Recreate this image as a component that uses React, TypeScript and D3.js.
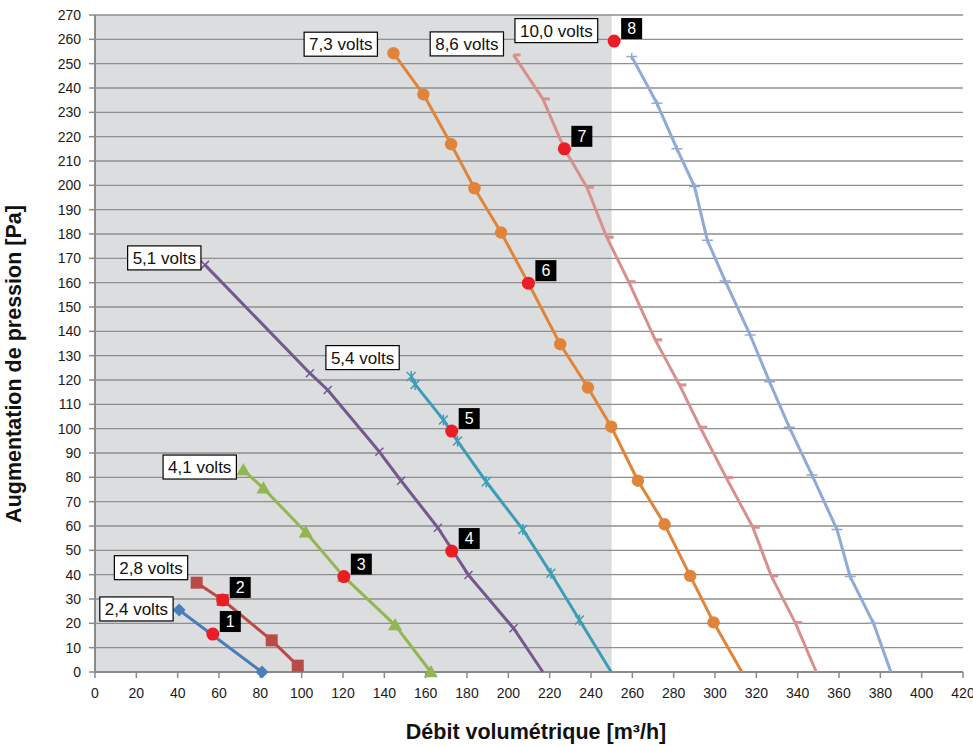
import React from "react";
import * as d3 from "d3";

const W = 973;
const H = 747;

// axis ticks
const xTickValues = d3.range(0, 421, 20);
const yTickValues = d3.range(0, 271, 10);
const shadedMaxFlow = 250;

// series names
const seriesNames = ["2,4 volts", "2,8 volts", "4,1 volts", "5,1 volts", "5,4 volts", "7,3 volts", "8,6 volts", "10,0 volts"];

// series values: [flow m³/h, pressure Pa]
const pts24 = [[40.7, 25.5], [80.8, 0]];
const pts28 = [[49.2, 36.7], [61.8, 29.6], [85.5, 13.0], [98.1, 2.6]];
const pts41 = [[71.8, 83.0], [81.5, 75.5], [102, 57.4], [120.4, 39.2], [145.2, 19.3], [162.5, 0]];
const pts51 = [[53.2, 167.3], [104, 122.8], [112.6, 115.9], [137.6, 90.5], [148.1, 78.6], [165.9, 59.3], [180.7, 39.9], [202.5, 18.0], [216.7, 0]];
const pts54 = [[153, 121.4], [154.9, 118.2], [168.6, 103.6], [175.4, 94.9], [189.3, 78.2], [207, 58.6], [220.6, 40.6], [234.4, 21.4], [249.8, 0]];
const pts73 = [[144.4, 254.3], [158.9, 237.4], [172.3, 216.9], [183.6, 198.8], [196.5, 180.6], [209.7, 159.8], [225.1, 134.7], [238.5, 116.9], [249.8, 100.8], [262.7, 78.6], [275.6, 60.7], [288.0, 39.5], [299.3, 20.4], [313.0, 0]];
const pts86 = [[202.5, 253.6], [216.7, 235.5], [227.1, 215], [238, 199.2], [247.6, 178.7], [258.2, 160.4], [271.1, 136.5], [282.8, 118.0], [292.8, 100.6], [305.4, 79.9], [318.3, 59.5], [327.2, 39.5], [338.8, 20.3], [349, 0]];
const pts100 = [[259.7, 252.9], [271.9, 233.7], [281.6, 215], [290.1, 199.5], [296.3, 177.4], [304.9, 160.7], [317, 138.5], [326.4, 119.3], [335.9, 100.6], [346.9, 81], [359, 58.6], [365.4, 39.2], [376.7, 20.0], [385.1, 0]];

// operating points
const opFlow = [57, 61.8, 120.4, 172.6, 172.6, 209.7, 227.1, 251.2];
const opPressure = [15.6, 29.6, 39.2, 49.7, 99.0, 159.8, 215, 259.3];
const opLabels = ["1", "2", "3", "4", "5", "6", "7", "8"];

// styles
const seriesStyle = [
  { color: "#4a7ebb", marker: "diamond", markEnd: true },
  { color: "#b84a47", marker: "square", markEnd: true },
  { color: "#93b552", marker: "triangle", markEnd: true },
  { color: "#74598f", marker: "x", markEnd: false },
  { color: "#3d9db7", marker: "star", markEnd: false },
  { color: "#e0843a", marker: "circle", markEnd: false },
  { color: "#d7908e", marker: "dash", markEnd: false },
  { color: "#8eaad6", marker: "plus", markEnd: false },
];
// label box right edge / top offset relative to first point (px)
const labelLayout = [
  { dx: -6, dy: -13 },
  { dx: -9, dy: -27 },
  { dx: -7, dy: -15 },
  { dx: -4, dy: -19 },
  { dx: -12, dy: -31 },
  { dx: -16, dy: -21 },
  { dx: -10, dy: -23 },
  { dx: -34, dy: -38 },
];

const allPts = [pts24, pts28, pts41, pts51, pts54, pts73, pts86, pts100];

const FONT = "'Liberation Sans', Arial, Helvetica, sans-serif";

function measure(text: string, font: string): number {
  try {
    const c = document.createElement("canvas").getContext("2d");
    if (c) {
      c.font = font;
      return c.measureText(text).width;
    }
  } catch (e) {}
  return text.length * 8;
}

function Marker({ type, x, y, color }: { type: string; x: number; y: number; color: string }) {
  switch (type) {
    case "diamond": {
      const r = 6.5;
      return <path d={`M${x},${y - r}L${x + r},${y}L${x},${y + r}L${x - r},${y}Z`} fill={color} />;
    }
    case "square": {
      const r = 6;
      return <rect x={x - r} y={y - r} width={2 * r} height={2 * r} fill={color} />;
    }
    case "triangle": {
      const r = 7;
      return <path d={`M${x},${y - r}L${x + r},${y + r * 0.75}L${x - r},${y + r * 0.75}Z`} fill={color} />;
    }
    case "x": {
      const r = 4;
      return (
        <path d={`M${x - r},${y - r}L${x + r},${y + r}M${x - r},${y + r}L${x + r},${y - r}`} stroke={color} strokeWidth={1.5} fill="none" />
      );
    }
    case "star": {
      const r = 4.5;
      return (
        <path
          d={`M${x - r},${y - r}L${x + r},${y + r}M${x - r},${y + r}L${x + r},${y - r}M${x},${y - r - 1}L${x},${y + r + 1}`}
          stroke={color}
          strokeWidth={1.5}
          fill="none"
        />
      );
    }
    case "circle":
      return <circle cx={x} cy={y} r={6.2} fill={color} />;
    case "dash":
      return <rect x={x} y={y - 1.5} width={7} height={3} fill={color} />;
    case "plus": {
      const r = 5.5;
      return <path d={`M${x - r},${y}L${x + r},${y}M${x},${y - 3.5}L${x},${y + 3.5}`} stroke={color} strokeWidth={1.5} fill="none" />;
    }
    default:
      return null;
  }
}

export default function App() {
  const x = d3.scaleLinear().domain([0, 420]).range([95, 963]);
  const y = d3.scaleLinear().domain([0, 270]).range([672, 15]);
  const line = d3
    .line<number[]>()
    .x((d) => x(d[0]))
    .y((d) => y(d[1]));

  const labelFont = `17px ${FONT}`;

  return (
    <svg width={W} height={H} style={{ position: "absolute", left: 0, top: 0, background: "#fff" }} fontFamily={FONT}>
      {/* shaded region */}
      <rect x={x(0)} y={y(270)} width={x(shadedMaxFlow) - x(0)} height={y(0) - y(270)} fill="#dcdddf" />
      {/* gridlines */}
      {yTickValues.map((v) => (
        <line key={"g" + v} x1={x(0)} x2={x(420)} y1={y(v)} y2={y(v)} stroke="#8f8f8f" strokeWidth={1.4} />
      ))}
      {/* y axis */}
      <line x1={x(0)} x2={x(0)} y1={y(0)} y2={y(270)} stroke="#8a8a8a" strokeWidth={2} />
      {yTickValues.map((v) => (
        <g key={"yt" + v}>
          <line x1={x(0) - 6} x2={x(0)} y1={y(v)} y2={y(v)} stroke="#8a8a8a" strokeWidth={1.5} />
          <text x={81} y={y(v)} dy="0.35em" textAnchor="end" fontSize={14} fill="#1a1a1a">
            {v}
          </text>
        </g>
      ))}
      {/* x axis */}
      <line x1={x(0)} x2={x(420)} y1={y(0)} y2={y(0)} stroke="#8a8a8a" strokeWidth={2} />
      {xTickValues.map((v) => (
        <g key={"xt" + v}>
          <line x1={x(v)} x2={x(v)} y1={y(0)} y2={y(0) + 6} stroke="#8a8a8a" strokeWidth={1.5} />
          <text x={x(v)} y={698} textAnchor="middle" fontSize={14} fill="#1a1a1a">
            {v}
          </text>
        </g>
      ))}
      {/* axis titles */}
      <text x={536} y={739} textAnchor="middle" fontSize={21.5} fontWeight="bold" fill="#111">
        Débit volumétrique [m³/h]
      </text>
      <text transform={`translate(21,364) rotate(-90)`} textAnchor="middle" fontSize={21.5} fontWeight="bold" fill="#111">
        Augmentation de pression [Pa]
      </text>

      {/* series lines */}
      {allPts.map((pts, i) => (
        <path key={"l" + i} d={line(pts) || ""} fill="none" stroke={seriesStyle[i].color} strokeWidth={3} strokeLinejoin="round" />
      ))}
      {/* markers */}
      {allPts.map((pts, i) =>
        pts.map((p, j) => {
          if (!seriesStyle[i].markEnd && j === pts.length - 1) return null;
          return <Marker key={`m${i}-${j}`} type={seriesStyle[i].marker} x={x(p[0])} y={y(p[1])} color={seriesStyle[i].color} />;
        })
      )}

      {/* operating points */}
      {opFlow.map((f, i) => {
        const cx = x(f);
        const cy = y(opPressure[i]);
        return (
          <g key={"op" + i}>
            <circle cx={cx} cy={cy} r={6.5} fill="#ec1c24" />
            <rect x={cx + 7} y={cy - 23} width={21} height={21} fill="#000" />
            <text x={cx + 17.5} y={cy - 12.5} dy="0.36em" textAnchor="middle" fontSize={16} fill="#fff">
              {opLabels[i]}
            </text>
          </g>
        );
      })}

      {/* series labels */}
      {seriesNames.map((name, i) => {
        const p = allPts[i][0];
        const tw = measure(name, labelFont);
        const bw = tw + 10;
        const right = x(p[0]) + labelLayout[i].dx;
        const top = y(p[1]) + labelLayout[i].dy;
        return (
          <g key={"lab" + i}>
            <rect x={right - bw} y={top} width={bw} height={24} fill="#fff" stroke="#000" strokeWidth={1.2} />
            <text x={right - bw / 2} y={top + 12} dy="0.36em" textAnchor="middle" fontSize={17} fill="#111">
              {name}
            </text>
          </g>
        );
      })}
    </svg>
  );
}
